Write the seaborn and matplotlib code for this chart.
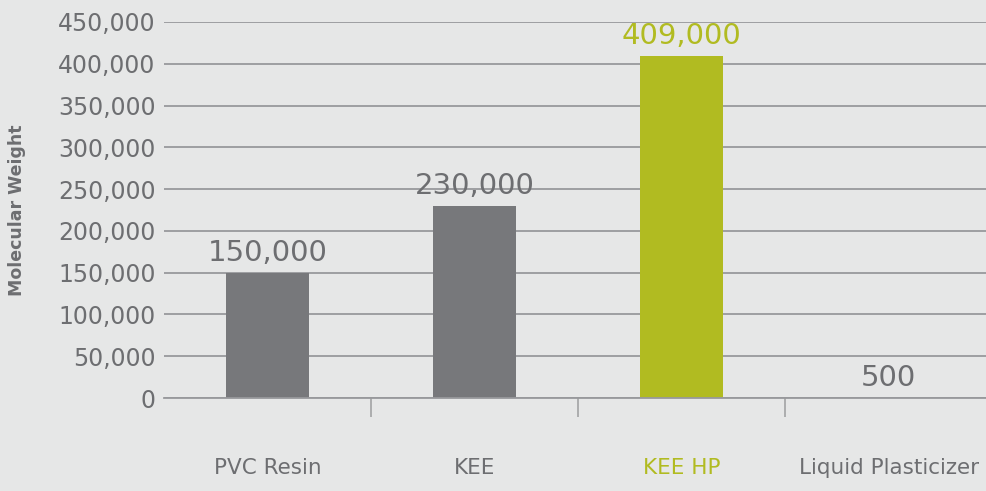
import numpy as np
import pandas as pd
import seaborn as sns
import matplotlib.pyplot as plt
from matplotlib.ticker import FuncFormatter, FixedLocator

categories = ['PVC Resin', 'KEE', 'KEE HP', 'Liquid Plasticizer']
molecular_weight = [150000, 230000, 409000, 500]
value_labels = ['150,000', '230,000', '409,000', '500']

gray = '#77787b'
green = '#b1bb21'
text_gray = '#6d6e71'
grid_gray = '#98999c'
bg = '#e6e7e7'

sns.set_theme(style='white')
plt.rcParams['font.family'] = ['DejaVu Sans']

df = pd.DataFrame({'category': categories, 'weight': molecular_weight})
colors = [gray, gray, green, gray]

fig = plt.figure(figsize=(9.86, 4.91), dpi=100, facecolor=bg)
ax = fig.add_axes([164 / 986, 1 - 398 / 491, 1 - 164 / 986, (398 - 22) / 491])
ax.set_facecolor(bg)

sns.barplot(data=df, x='category', y='weight', hue='category', palette=colors,
            legend=False, width=0.4, ax=ax, zorder=3, saturation=1,
            edgecolor='none', linewidth=0)

ax.set_ylim(0, 450000)
ax.set_xlim(-0.5, 3.47)
ax.set_yticks(np.arange(0, 450001, 50000))
ax.yaxis.set_major_formatter(FuncFormatter(lambda v, p: f'{int(v):,}'))
ax.grid(axis='y', color=grid_gray, linewidth=1.3, zorder=0)
ax.grid(axis='x', visible=False)
for s in ['top', 'right', 'left']:
    ax.spines[s].set_visible(False)
ax.spines['bottom'].set_color(grid_gray)
ax.spines['bottom'].set_linewidth(1.3)
ax.spines['bottom'].set_zorder(4)

ax.tick_params(axis='y', length=0, pad=6, labelsize=17, labelcolor=text_gray)
ax.tick_params(axis='x', which='major', bottom=True, length=0, pad=43,
               labelsize=15.5, labelcolor=text_gray)
ax.xaxis.set_minor_locator(FixedLocator([0.5, 1.5, 2.5]))
ax.tick_params(axis='x', which='minor', bottom=True, length=14, width=1.3,
               color='#a7a8aa', direction='out')
ax.get_xticklabels()[2].set_color(green)

ax.set_xlabel('')
ax.set_ylabel('Molecular Weight', fontsize=12.5, fontweight='bold', color=text_gray)
ax.yaxis.set_label_coords(-0.168, 0.5)

for i, (v, lab) in enumerate(zip(molecular_weight, value_labels)):
    c = green if i == 2 else text_gray
    ax.text(i, v + 7000, lab, ha='center', va='bottom', fontsize=21, color=c)

fig.savefig('out.png', dpi=100, facecolor=bg)
